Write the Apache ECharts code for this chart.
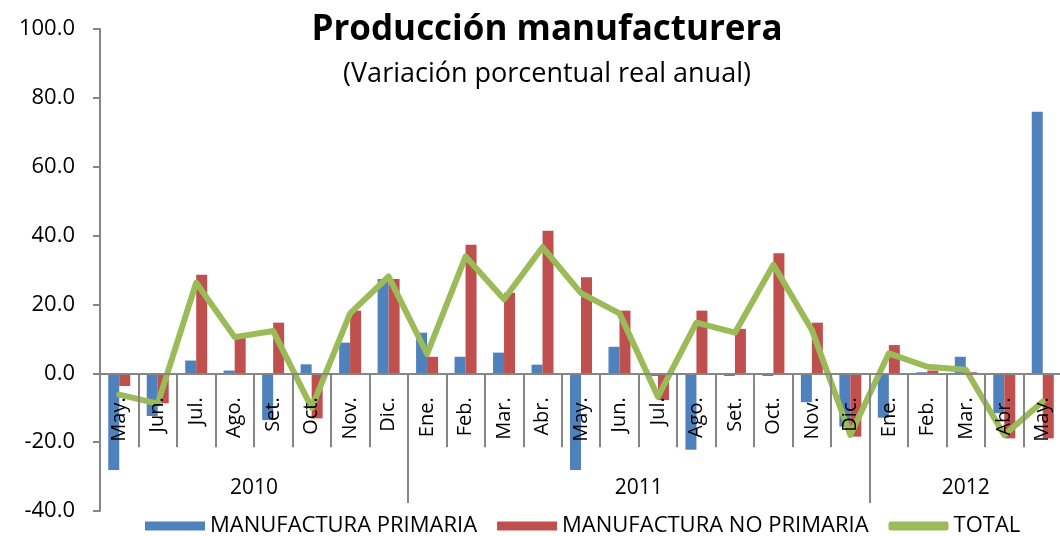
<!DOCTYPE html>
<html>
<head>
<meta charset="utf-8">
<title>Producción manufacturera</title>
<script src="https://cdn.jsdelivr.net/npm/echarts@6/dist/echarts.min.js"></script>
<style>
  html, body { margin: 0; padding: 0; background: #fff; }
  #chart { width: 1060px; height: 536px; }
</style>
</head>
<body>
<div id="chart"></div>
<script>
// meses de mayo 2010 a mayo 2012
const months = ['May.', 'Jun.', 'Jul.', 'Ago.', 'Set.', 'Oct.', 'Nov.', 'Dic.',
  'Ene.', 'Feb.', 'Mar.', 'Abr.', 'May.', 'Jun.', 'Jul.', 'Ago.', 'Set.', 'Oct.', 'Nov.', 'Dic.',
  'Ene.', 'Feb.', 'Mar.', 'Abr.', 'May.'];
const years = ['2010', '2011', '2012'];
// cantidad de meses por año en el eje
const yearMonths = [8, 12, 5];

const primaria = [-28.1, -12.4, 3.7, 0.8, -13.6, 2.6, 8.9, 27.4,
  11.8, 4.8, 6.0, 2.5, -28.1, 7.7, -0.8, -22.2, -0.8, -0.8, -8.4, -15.5,
  -12.9, 0.3, 4.8, -11.6, 76.0];
const noPrimaria = [-3.7, -8.7, 28.6, 10.8, 14.7, -13.1, 18.2, 27.4,
  4.8, 37.3, 23.4, 41.4, 27.9, 18.2, -7.8, 18.2, 12.9, 34.9, 14.7, -18.4,
  8.2, 0.8, 0.3, -18.9, -18.9];
const total = [-6.2, -8.8, 26.3, 10.5, 12.3, -10.0, 17.4, 28.1,
  5.6, 33.9, 21.5, 36.6, 23.3, 17.4, -6.8, 14.7, 11.8, 31.5, 12.6, -17.9,
  5.8, 1.9, 1.0, -17.9, -8.2];

const yTicks = [-40, 100, 20]; // min, max, intervalo

// separadores y centros de los grupos de años
const yearEdges = [];
const yearCenters = [];
let acc = 0;
yearMonths.forEach(n => {
  yearCenters.push(acc + n / 2);
  acc += n;
  yearEdges.push(acc);
});

const font = 'Open Sans';
const gray = '#868686';

// alto del área de trazado y distancia del cero al borde inferior
const gridTop = 29;
const gridBottom = 25;
const plotH = 536 - gridTop - gridBottom;
const zeroOffset = plotH * (0 - yTicks[0]) / (yTicks[1] - yTicks[0]);

let chart = echarts.init(document.getElementById('chart'));

chart.setOption({
  animation: false,
  textStyle: { fontFamily: font },
  title: [
    {
      text: 'Producción manufacturera',
      left: 542,
      top: 8,
      textAlign: 'center',
      textStyle: { fontSize: 35, fontWeight: 'bold', color: '#000', fontFamily: font }
    },
    {
      text: '(Variación porcentual real anual)',
      left: 542,
      top: 56,
      textAlign: 'center',
      textStyle: { fontSize: 27, fontWeight: 'normal', color: '#000', fontFamily: font }
    }
  ],
  grid: {
    left: 100,
    right: -2,
    top: gridTop,
    bottom: gridBottom,
    outerBoundsMode: 'none',
    containLabel: false
  },
  legend: {
    bottom: -6,
    left: 140,
    itemWidth: 60,
    itemHeight: 9,
    itemGap: 20,
    textStyle: { fontSize: 22, color: '#000', fontFamily: font },
    data: [
      { name: 'MANUFACTURA PRIMARIA', icon: 'rect' },
      { name: 'MANUFACTURA NO PRIMARIA', icon: 'rect' },
      { name: 'TOTAL', icon: 'roundRect' }
    ]
  },
  xAxis: [
    {
      type: 'category',
      data: months,
      z: 10,
      offset: -zeroOffset,
      axisLine: { onZero: false, lineStyle: { color: gray, width: 2 } },
      axisTick: { show: true, length: 74, lineStyle: { color: gray, width: 2 } },
      axisLabel: {
        rotate: 90,
        margin: 24,
        interval: 0,
        fontSize: 20,
        color: '#000',
        fontFamily: font
      }
    },
    {
      type: 'value',
      min: 0,
      max: months.length,
      position: 'bottom',
      offset: -8,
      z: 10,
      axisLine: { show: false, onZero: false },
      splitLine: { show: false },
      axisTick: {
        show: true,
        inside: true,
        length: 130,
        customValues: yearEdges.slice(0, -1),
        lineStyle: { color: gray, width: 2 }
      },
      axisLabel: {
        inside: true,
        margin: 4,
        fontSize: 21,
        color: '#000',
        fontFamily: font,
        customValues: yearCenters,
        formatter: v => years[yearCenters.indexOf(v)]
      }
    }
  ],
  yAxis: {
    type: 'value',
    min: yTicks[0],
    max: yTicks[1],
    interval: yTicks[2],
    axisLine: { show: true, lineStyle: { color: gray, width: 2 } },
    axisTick: { show: true, length: 7, lineStyle: { color: gray, width: 2 } },
    splitLine: { show: false },
    axisLabel: {
      margin: 25,
      fontSize: 22,
      color: '#000',
      fontFamily: font,
      formatter: v => v.toFixed(1)
    }
  },
  series: [
    {
      name: 'MANUFACTURA PRIMARIA',
      type: 'bar',
      data: primaria,
      barWidth: 11,
      barGap: '0%',
      itemStyle: { color: '#4F81BD' }
    },
    {
      name: 'MANUFACTURA NO PRIMARIA',
      type: 'bar',
      data: noPrimaria,
      barWidth: 11,
      itemStyle: { color: '#C0504D' }
    },
    {
      name: 'TOTAL',
      type: 'line',
      data: total,
      symbol: 'none',
      z: 5,
      lineStyle: { color: '#9BBB59', width: 6, join: 'round', cap: 'round' },
      itemStyle: { color: '#9BBB59' }
    }
  ]
});
</script>
</body>
</html>
